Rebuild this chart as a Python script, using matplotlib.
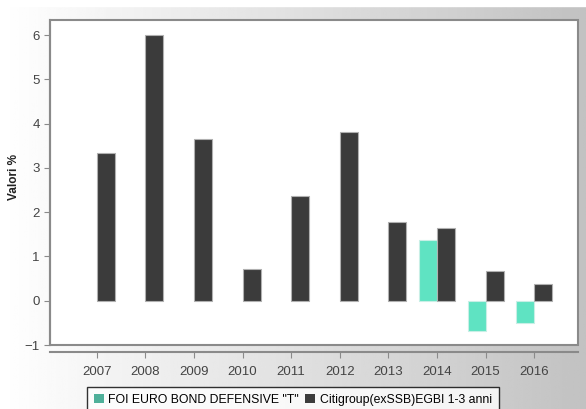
import numpy as np
import matplotlib.pyplot as plt
from matplotlib.patches import Rectangle, Patch

years = ['2007', '2008', '2009', '2010', '2011', '2012', '2013', '2014', '2015', '2016']
fund = [np.nan, np.nan, np.nan, np.nan, np.nan, np.nan, np.nan, 1.38, -0.68, -0.50]
bench = [3.34, 6.01, 3.65, 0.72, 2.37, 3.82, 1.77, 1.64, 0.66, 0.38]
fund_name = 'FOI EURO BOND DEFENSIVE "T"'
bench_name = 'Citigroup(exSSB)EGBI 1-3 anni'

plt.rcParams['font.family'] = ['Liberation Sans', 'DejaVu Sans']

W, H = 586, 409
fig = plt.figure(figsize=(W / 100, H / 100), dpi=100)

# background gradient, white on the left to grey on the right
bg = fig.add_axes([0, 0, 1, 1], zorder=-10)
grad = np.linspace(1.0, 0.76, 256)[None, :]
bg.imshow(np.repeat(grad, 2, axis=0), cmap='gray', vmin=0, vmax=1,
          aspect='auto', extent=[0, 1, 0, 1])
bg.add_patch(Rectangle((0, 1 - 6 / H), 1, 6 / H, color='white'))
bg.set_xlim(0, 1)
bg.set_ylim(0, 1)
bg.axis('off')

ax = fig.add_axes([50 / W, (H - 345) / H, 528 / W, 325 / H])
ax.set_facecolor('white')

x = np.arange(len(years))
width = 0.37
ax.bar(x - width / 2, fund, width, color='#5fe3c2', edgecolor='#c8efe6', linewidth=0.8, zorder=3)
ax.bar(x + width / 2, bench, width, color='#3b3b3b', edgecolor='#b0b0b0', linewidth=0.8, zorder=3)

ax.set_xlim(-0.96, 9.9)
ax.set_ylim(-1, 6.34)
ax.set_xticks(x, years)
ax.set_yticks(range(-1, 7))

for s in ['top', 'right']:
    ax.spines[s].set_visible(False)
ax.spines['left'].set_color('#8a8a8a')
ax.spines['left'].set_linewidth(1.5)
ax.spines['bottom'].set_position(('outward', 5))
ax.spines['bottom'].set_color('#8a8a8a')
ax.spines['bottom'].set_linewidth(1.5)
ax.add_patch(Rectangle((0, 0), 1, 1, transform=ax.transAxes, fill=False,
                       edgecolor='#8a8a8a', linewidth=1.5, zorder=5, clip_on=False))

ax.tick_params(axis='both', colors='#8a8a8a', labelcolor='#444444', labelsize=9.5, length=4)
ax.tick_params(axis='x', pad=6)
fig.text(14 / W, 1 - 177 / H, 'Valori %', rotation=90, ha='center', va='center',
         fontsize=8.5, fontweight='bold', color='#222222')

handles = [Patch(facecolor='#4fb09a', edgecolor='none', label=fund_name),
           Patch(facecolor='#3b3b3b', edgecolor='none', label=bench_name)]
leg = fig.legend(handles=handles, loc='upper left', bbox_to_anchor=(87 / W, 1 - 387 / H),
                 ncol=2, fontsize=8.8, frameon=True, fancybox=False, handlelength=0.8,
                 handleheight=0.8, handletextpad=0.4, columnspacing=0.5, borderpad=0.55,
                 borderaxespad=0)
leg.get_frame().set_edgecolor('black')
leg.get_frame().set_linewidth(1)

fig.savefig('out.png', dpi=100)
